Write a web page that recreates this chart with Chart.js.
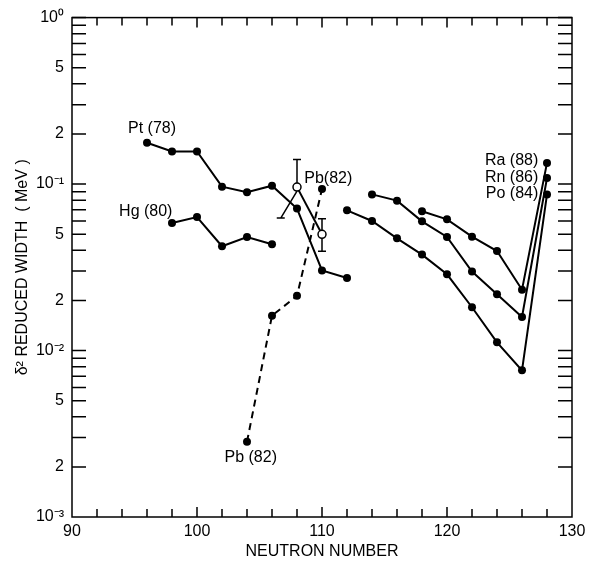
<!DOCTYPE html>
<html>
<head>
<meta charset="utf-8">
<script src="https://cdn.jsdelivr.net/npm/chart.js@4.4.1/dist/chart.umd.min.js"></script>
<style>
  body { margin: 0; background: #fff; }
  canvas { display: block; }
</style>
</head>
<body>
<canvas id="chart-width" width="597" height="562"></canvas>
<script>
// ---------- data ----------
const ptN = [96, 98, 100, 102, 104, 106, 108, 110, 112];
const ptW = [0.177, 0.157, 0.157, 0.0965, 0.0892, 0.0978, 0.0712, 0.0303, 0.0273];

const hgN = [98, 100, 102, 104, 106];
const hgW = [0.0584, 0.0634, 0.0423, 0.0481, 0.0435];

const pbN = [104, 106, 108, 110];
const pbW = [0.00283, 0.0162, 0.0213, 0.0933];

const pbOpenN = [108, 110];
const pbOpenW = [0.0959, 0.0499];
const pbErrLo = [0.0625, 0.0395];
const pbErrHi = [0.1406, 0.062];
const pbErrLoN = [106.7, 110];   // lower bar of first point is drawn slanted

const poN = [112, 114, 116, 118, 120, 122, 124, 126, 128];
const poW = [0.0695, 0.060, 0.0472, 0.0377, 0.0287, 0.0182, 0.0112, 0.0076, 0.0867];

const rnN = [114, 116, 118, 120, 122, 124, 126, 128];
const rnW = [0.0867, 0.0795, 0.0597, 0.0481, 0.0298, 0.0218, 0.0159, 0.1087];

const raN = [118, 120, 122, 124, 126, 128];
const raW = [0.0686, 0.0614, 0.0483, 0.0396, 0.0232, 0.134];

const xTickValues = [90, 100, 110, 120, 130];
const yTickValues = [0.001, 0.002, 0.005, 0.01, 0.02, 0.05, 0.1, 0.2, 0.5, 1];

const seriesLabels = [
    { text: 'Pt (78)', n: 96.4, w: 0.216, align: 'center' },
    { text: 'Hg (80)', n: 95.9, w: 0.0686, align: 'center' },
    { text: 'Pb(82)', n: 110.5, w: 0.108, align: 'center' },
    { text: 'Pb (82)', n: 104.3, w: 0.00229, align: 'center' },
    { text: 'Ra (88)', n: 127.3, w: 0.1387, align: 'right' },
    { text: 'Rn (86)', n: 127.3, w: 0.1097, align: 'right' },
    { text: 'Po (84)', n: 127.3, w: 0.0879, align: 'right' }
];

const FONT = '"Liberation Sans", Arial, sans-serif';

function pts(xs, ys) {
    return xs.map((x, i) => ({ x: x, y: ys[i] }));
}

function sup(e) {
    const map = { '-': '\u207B', '0': '\u2070', '1': '\u00B9', '2': '\u00B2', '3': '\u00B3' };
    return String(e).split('').map(c => map[c]).join('');
}

function lineSet(data, dashed, open) {
    return {
        data: data,
        borderColor: '#000',
        borderWidth: 2,
        borderDash: dashed ? [7, 5] : [],
        pointRadius: 4,
        pointBorderWidth: open ? 1.5 : 0,
        pointBackgroundColor: open ? '#fff' : '#000',
        pointBorderColor: '#000',
        showLine: true,
        tension: 0
    };
}

// frame, inward ticks, error bars and text labels
const decorations = {
    id: 'decorations',
    afterDatasetsDraw(chart) {
        const ctx = chart.ctx;
        const a = chart.chartArea;
        const xs = chart.scales.x, ys = chart.scales.y;
        ctx.save();
        ctx.strokeStyle = '#000';
        ctx.fillStyle = '#000';
        ctx.lineWidth = 1.5;
        ctx.strokeRect(a.left, a.top, a.right - a.left, a.bottom - a.top);

        ctx.beginPath();
        for (let n = 92; n < 130; n += 2) {
            const px = xs.getPixelForValue(n);
            const len = n % 10 === 0 ? 10 : 8;
            ctx.moveTo(px, a.bottom); ctx.lineTo(px, a.bottom - len);
            ctx.moveTo(px, a.top); ctx.lineTo(px, a.top + len);
        }
        for (let d = -3; d < 0; d++) {
            for (let m = 2; m <= 10; m++) {
                const py = ys.getPixelForValue(m * Math.pow(10, d));
                ctx.moveTo(a.left, py); ctx.lineTo(a.left + 14, py);
                ctx.moveTo(a.right, py); ctx.lineTo(a.right - 14, py);
            }
        }
        ctx.stroke();

        // error bars on open points
        ctx.lineWidth = 1.5;
        ctx.beginPath();
        pbOpenN.forEach((n, i) => {
            const px = xs.getPixelForValue(n);
            const pc = ys.getPixelForValue(pbOpenW[i]);
            const ph = ys.getPixelForValue(pbErrHi[i]);
            const pl = ys.getPixelForValue(pbErrLo[i]);
            const plx = xs.getPixelForValue(pbErrLoN[i]);
            ctx.moveTo(px, pc - 4); ctx.lineTo(px, ph);
            ctx.moveTo(px - 4, ph); ctx.lineTo(px + 4, ph);
            ctx.moveTo(px, pc + 4); ctx.lineTo(plx, pl);
            ctx.moveTo(plx - 4, pl); ctx.lineTo(plx + 4, pl);
        });
        ctx.stroke();

        ctx.font = '16px ' + FONT;
        ctx.textBaseline = 'middle';
        seriesLabels.forEach(l => {
            ctx.textAlign = l.align;
            ctx.fillText(l.text, xs.getPixelForValue(l.n), ys.getPixelForValue(l.w));
        });
        ctx.restore();
    }
};

const ctx = document.getElementById('chart-width').getContext('2d');
new Chart(ctx, {
    type: 'line',
    data: {
        datasets: [
            lineSet(pts(ptN, ptW), false, false),
            lineSet(pts(hgN, hgW), false, false),
            lineSet(pts(pbN, pbW), true, false),
            lineSet(pts(pbOpenN, pbOpenW), false, true),
            lineSet(pts(poN, poW), false, false),
            lineSet(pts(rnN, rnW), false, false),
            lineSet(pts(raN, raW), false, false)
        ]
    },
    options: {
        responsive: false,
        animation: false,
        layout: { padding: { left: 0, right: 25, top: 17, bottom: 0 } },
        plugins: { legend: { display: false }, tooltip: { enabled: false } },
        scales: {
            x: {
                type: 'linear',
                min: 90, max: 130,
                grid: { display: false, drawTicks: false },
                border: { display: false },
                afterBuildTicks: s => { s.ticks = xTickValues.map(v => ({ value: v })); },
                afterFit: s => { s.height = 45; },
                ticks: {
                    color: '#000', padding: 5, autoSkip: false, maxRotation: 0,
                    font: { family: FONT, size: 16 }
                },
                title: {
                    display: true, text: 'NEUTRON NUMBER', color: '#000',
                    font: { family: FONT, size: 16 }, padding: { top: 0, bottom: 1 }
                }
            },
            y: {
                type: 'logarithmic',
                min: 0.001, max: 1,
                grid: { display: false, drawTicks: false },
                border: { display: false },
                afterBuildTicks: s => { s.ticks = yTickValues.map(v => ({ value: v })); },
                afterFit: s => { s.width = 72; },
                ticks: {
                    color: '#000', padding: 8, autoSkip: false,
                    font: { family: FONT, size: 16 },
                    callback: v => {
                        const e = Math.floor(Math.log10(v) + 1e-9);
                        const m = Math.round(v / Math.pow(10, e));
                        if (m === 1) return '10' + sup(e);
                        return String(m);
                    }
                },
                title: {
                    display: true, text: '\u03B4\u00B2 REDUCED WIDTH  ( MeV )', color: '#000',
                    font: { family: FONT, size: 16 }, padding: { top: 13, bottom: 0 }
                }
            }
        }
    },
    plugins: [decorations]
});
</script>
</body>
</html>
